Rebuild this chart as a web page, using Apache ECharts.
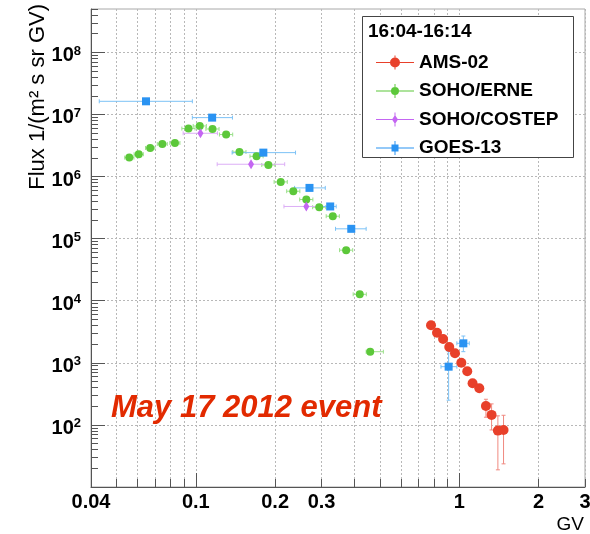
<!DOCTYPE html>
<html>
<head>
<meta charset="utf-8">
<script src="https://cdn.jsdelivr.net/npm/echarts@6/dist/echarts.min.js"></script>
<style>
  html, body { margin: 0; padding: 0; background: #fff; }
  #chart { width: 590px; height: 534px; }
</style>
</head>
<body>
<div id="chart"></div>
<script>
// rigidity in GV, flux in 1/(m^2 s sr GV)
const amsRigidity = [0.781, 0.823, 0.868, 0.916, 0.963, 1.018, 1.072, 1.123, 1.191, 1.262, 1.326, 1.401, 1.472]
const amsFlux = [4020, 3055, 2421, 1800, 1422, 1005, 731, 469, 390, 202, 145, 81, 83]
const amsFluxLow = [4020, 3055, 2421, 1800, 1422, 1005, 731, 469, 390, 133, 83, 18.9, 23.6]
const amsFluxHigh = [4020, 3055, 2421, 1800, 1422, 1005, 731, 469, 390, 259, 218, 140, 143]

const erneRigidity = [0.0559, 0.0607, 0.0671, 0.0746, 0.0833, 0.0938, 0.1035, 0.1157, 0.1303, 0.1464,
  0.170, 0.1885, 0.210, 0.2344, 0.2626, 0.294, 0.331, 0.372, 0.419, 0.459]
const erneRigidityLow = [0.0537, 0.0583, 0.0644, 0.0714, 0.0797, 0.0885, 0.0977, 0.1092, 0.1229, 0.1382,
  0.1605, 0.1779, 0.1982, 0.2212, 0.2479, 0.2775, 0.3124, 0.3511, 0.3955, 0.443]
const erneRigidityHigh = [0.0582, 0.0632, 0.0699, 0.0779, 0.0870, 0.0993, 0.1096, 0.1225, 0.1380, 0.1550,
  0.1800, 0.1996, 0.2224, 0.2482, 0.2781, 0.3113, 0.3505, 0.3939, 0.4437, 0.515]
const erneFlux = [2.02e6, 2.29e6, 2.89e6, 3.35e6, 3.48e6, 5.93e6, 6.53e6, 5.84e6, 4.75e6, 2.49e6,
  2.12e6, 1.54e6, 8.2e5, 5.81e5, 4.27e5, 3.21e5, 2.30e5, 6.53e4, 1.27e4, 1510]

const costepRigidity = [0.1041, 0.162, 0.2626]
const costepRigidityLow = [0.0895, 0.1205, 0.216]
const costepRigidityHigh = [0.1208, 0.2174, 0.331]
const costepFlux = [4.98e6, 1.58e6, 3.3e5]

const goesRigidity = [0.0647, 0.1153, 0.1804, 0.270, 0.3236, 0.389, 0.911, 1.036]
const goesRigidityLow = [0.043, 0.097, 0.1373, 0.237, 0.288, 0.339, 0.852, 0.979]
const goesRigidityHigh = [0.097, 0.1377, 0.239, 0.31, 0.341, 0.443, 0.979, 1.091]
const goesFlux = [1.63e7, 8.9e6, 2.43e6, 6.57e5, 3.3e5, 1.44e5, 867, 2061]
const goesFluxLow = [1.63e7, 8.9e6, 2.43e6, 6.57e5, 3.3e5, 1.44e5, 250, 1513]
const goesFluxHigh = [1.63e7, 8.9e6, 2.43e6, 6.57e5, 3.3e5, 1.44e5, 1513, 2703]

const xLabelValues = [0.04, 0.1, 0.2, 0.3, 1, 2, 3]
const xMajorTicks = [0.1, 1]
const xMinorTicks = [0.05, 0.06, 0.07, 0.08, 0.09, 0.2, 0.3, 0.4, 0.5, 0.6, 0.7, 0.8, 0.9, 2, 3]
const yLabelValues = [1e2, 1e3, 1e4, 1e5, 1e6, 1e7, 1e8]
const yMajorTicks = [1e1, 1e2, 1e3, 1e4, 1e5, 1e6, 1e7, 1e8]
const yMinorTicks = []
for (const decade of yMajorTicks) {
  for (let m = 2; m <= 9; m++) {
    if (m * decade <= 5e8) yMinorTicks.push(m * decade)
  }
}

const font = 'Liberation Sans, Arial, Helvetica, sans-serif'
const axisGray = '#555'
const gridDots = { color: '#b8b8b8', width: 1, type: [2, 2] }

function zipRows(x, y, xLo, xHi, yLo, yHi) {
  return x.map((v, i) => [v, y[i], xLo ? xLo[i] : v, xHi ? xHi[i] : v, yLo ? yLo[i] : y[i], yHi ? yHi[i] : y[i]])
}

function errorBars(color) {
  return function (params, api) {
    const x = api.value(0)
    const y = api.value(1)
    const c = api.coord([x, y])
    const left = api.coord([api.value(2), y])
    const right = api.coord([api.value(3), y])
    const bottom = api.coord([x, api.value(4)])
    const top = api.coord([x, api.value(5)])
    const style = { stroke: color, lineWidth: 1 }
    const children = []
    if (right[0] - left[0] > 1) {
      children.push({ type: 'line', shape: { x1: left[0], y1: c[1], x2: right[0], y2: c[1] }, style })
      children.push({ type: 'line', shape: { x1: left[0], y1: c[1] - 2, x2: left[0], y2: c[1] + 2 }, style })
      children.push({ type: 'line', shape: { x1: right[0], y1: c[1] - 2, x2: right[0], y2: c[1] + 2 }, style })
    }
    if (bottom[1] - top[1] > 1) {
      children.push({ type: 'line', shape: { x1: c[0], y1: top[1], x2: c[0], y2: bottom[1] }, style })
      children.push({ type: 'line', shape: { x1: c[0] - 2, y1: top[1], x2: c[0] + 2, y2: top[1] }, style })
      children.push({ type: 'line', shape: { x1: c[0] - 2, y1: bottom[1], x2: c[0] + 2, y2: bottom[1] }, style })
    }
    return { type: 'group', children }
  }
}

const sets = [
  { name: 'AMS-02', color: '#e8402a', bar: '#f08a80', symbol: 'circle', size: 10,
    rows: zipRows(amsRigidity, amsFlux, null, null, amsFluxLow, amsFluxHigh),
    icon: 'path://M0,6.5L38,6.5L38,7.5L0,7.5Z M18.5,0L19.5,0L19.5,14L18.5,14Z M19,2A5,5,0,1,1,18.99,2Z' },
  { name: 'SOHO/ERNE', color: '#5cc83a', bar: '#9be08a', symbol: 'circle', size: 8,
    rows: zipRows(erneRigidity, erneFlux, erneRigidityLow, erneRigidityHigh),
    icon: 'path://M0,6.5L38,6.5L38,7.5L0,7.5Z M18.5,0L19.5,0L19.5,14L18.5,14Z M19,3A4,4,0,1,1,18.99,3Z' },
  { name: 'SOHO/COSTEP', color: '#c466f2', bar: '#dcaef6', symbol: 'diamond', size: [6, 10],
    rows: zipRows(costepRigidity, costepFlux, costepRigidityLow, costepRigidityHigh),
    icon: 'path://M0,6.5L38,6.5L38,7.5L0,7.5Z M18.5,0L19.5,0L19.5,14L18.5,14Z M19,2.5L22,7L19,11.5L16,7Z' },
  { name: 'GOES-13', color: '#2a93f2', bar: '#7cc2f6', symbol: 'rect', size: 8,
    rows: zipRows(goesRigidity, goesFlux, goesRigidityLow, goesRigidityHigh, goesFluxLow, goesFluxHigh),
    icon: 'path://M0,6.5L38,6.5L38,7.5L0,7.5Z M18.5,0L19.5,0L19.5,14L18.5,14Z M15.5,3.5L22.5,3.5L22.5,10.5L15.5,10.5Z' },
]

const series = []
for (const s of sets) {
  series.push({
    name: s.name,
    type: 'custom',
    renderItem: errorBars(s.bar),
    data: s.rows,
    encode: { x: [0, 2, 3], y: [1, 4, 5] },
    itemStyle: { color: s.color },
    clip: true,
    z: 2,
  })
}
for (const s of sets) {
  series.push({
    name: s.name,
    type: 'scatter',
    data: s.rows.map((r) => [r[0], r[1]]),
    symbol: s.symbol,
    symbolSize: s.size,
    itemStyle: { color: s.color, opacity: 1 },
    emphasis: { disabled: true },
    clip: true,
    z: 3,
  })
}

const chart = echarts.init(document.getElementById('chart'), null, { renderer: 'canvas' })
chart.setOption({
  animation: false,
  textStyle: { fontFamily: font },
  grid: {
    left: 91,
    right: 5,
    top: 9,
    bottom: 47,
    show: true,
    borderColor: '#a8a8a8',
    borderWidth: 1,
    outerBoundsMode: 'none',
  },
  xAxis: [
    {
      type: 'log',
      min: 0.04,
      max: 3,
      position: 'bottom',
      axisLine: { show: true, lineStyle: { color: axisGray, width: 1 } },
      axisTick: { inside: true, length: 14, customValues: xMajorTicks, lineStyle: { color: axisGray } },
      axisLabel: {
        customValues: xLabelValues,
        margin: 5,
        color: '#000',
        fontFamily: font,
        fontWeight: 'bold',
        fontSize: 20,
        formatter: (v) => String(+Number(v).toPrecision(3)),
      },
      splitLine: { show: true, lineStyle: gridDots },
    },
    {
      type: 'log',
      min: 0.04,
      max: 3,
      position: 'bottom',
      axisLine: { show: false },
      axisTick: { inside: true, length: 8, customValues: xMinorTicks, lineStyle: { color: axisGray } },
      axisLabel: { show: false },
      splitLine: { show: true, lineStyle: gridDots },
    },
  ],
  yAxis: [
    {
      type: 'log',
      min: 10,
      max: 5e8,
      position: 'left',
      axisLine: { show: true, lineStyle: { color: axisGray, width: 1 } },
      axisTick: { inside: true, length: 14, customValues: yMajorTicks, lineStyle: { color: axisGray } },
      axisLabel: {
        customValues: yLabelValues,
        margin: 10,
        color: '#000',
        fontFamily: font,
        padding: [5, 0, 0, 0],
        formatter: (v) => '{b|10}{s|' + Math.round(Math.log10(v)) + '}',
        rich: {
          b: { fontFamily: font, fontWeight: 'bold', fontSize: 20, lineHeight: 20, padding: [2, 0, 0, 0], color: '#000' },
          s: { fontFamily: font, fontWeight: 'bold', fontSize: 13, lineHeight: 13, verticalAlign: 'top', color: '#000' },
        },
      },
      splitLine: { show: true, lineStyle: gridDots },
    },
    {
      type: 'log',
      min: 10,
      max: 5e8,
      position: 'left',
      axisLine: { show: false },
      axisTick: { inside: true, length: 7, customValues: yMinorTicks, lineStyle: { color: axisGray } },
      axisLabel: { show: false },
      splitLine: { show: false },
    },
  ],
  legend: {
    orient: 'vertical',
    left: 371,
    top: 48,
    itemWidth: 38,
    itemHeight: 14,
    itemGap: 9.5,
    selectedMode: false,
    z: 6,
    textStyle: { fontFamily: font, fontWeight: 'bold', fontSize: 19, lineHeight: 19, color: '#000' },
    data: sets.map((s) => ({ name: s.name, icon: s.icon })),
  },
  graphic: [
    {
      type: 'rect',
      z: 5,
      shape: { x: 362.5, y: 16.5, width: 211, height: 141 },
      style: { fill: '#fff', stroke: '#444', lineWidth: 1 },
    },
    {
      type: 'text',
      z: 6,
      x: 368,
      y: 32,
      style: { text: '16:04-16:14', fontFamily: font, fontWeight: 'bold', fontSize: 19, fill: '#000', textAlign: 'left', textVerticalAlign: 'middle' },
    },
    {
      type: 'text',
      z: 6,
      x: 38,
      y: 4,
      rotation: Math.PI / 2,
      style: { text: 'Flux 1/(m² s sr GV)', fontFamily: font, fontSize: 22, fill: '#000', textAlign: 'right', textVerticalAlign: 'middle' },
    },
    {
      type: 'text',
      z: 6,
      x: 584,
      y: 525,
      style: { text: 'GV', fontFamily: font, fontSize: 19, fill: '#000', textAlign: 'right', textVerticalAlign: 'middle' },
    },
    {
      type: 'text',
      z: 6,
      x: 111,
      y: 408,
      style: { text: 'May 17 2012 event', fontFamily: font, fontWeight: 'bold', fontStyle: 'italic', fontSize: 31, fill: '#e22a00', textAlign: 'left', textVerticalAlign: 'middle' },
    },
  ],
  series,
})
</script>
</body>
</html>
